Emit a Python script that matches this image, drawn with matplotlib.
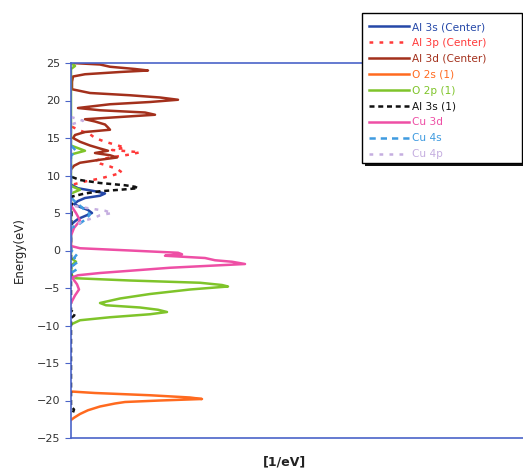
import matplotlib
matplotlib.use("Agg")
import matplotlib.pyplot as plt
from matplotlib.patches import Rectangle
import numpy as np

# energy (eV) / DOS (1/eV) pairs
al3s_c_e = [8.8, 8.3, 7.9, 7.6, 7.3, 7.0, 6.6, 6.2, 5.8, 5.4, 5.0, 4.6, 4.2, 3.8, 3.4]
al3s_c_d = [0.00, 0.07, 0.24, 0.34, 0.29, 0.14, 0.07, 0.03, 0.09, 0.17, 0.21, 0.14, 0.07, 0.03, 0.00]

al3p_c_e = [16.5, 16.0, 15.5, 15.0, 14.5, 14.0, 13.7, 13.4, 13.1, 12.8, 12.4, 12.0,
            11.6, 11.2, 10.8, 10.4, 10.0, 9.6, 9.2, 8.8]
al3p_c_d = [0.01, 0.09, 0.19, 0.24, 0.34, 0.47, 0.54, 0.41, 0.69, 0.59, 0.39, 0.24,
            0.29, 0.39, 0.47, 0.51, 0.41, 0.29, 0.14, 0.02]

al3d_c_e = [25.0, 24.8, 24.5, 24.2, 24.0, 23.8, 23.5, 23.2, 22.5, 21.5, 21.0, 20.7, 20.4,
            20.1, 19.8, 19.5, 19.0, 18.7, 18.4, 18.1, 17.8, 17.5, 17.2, 16.8, 16.4, 16.1,
            15.8, 15.4, 15.0, 14.5, 14.0, 13.6, 13.3, 13.0, 12.7, 12.4, 12.1, 11.7, 11.3, 10.8]
al3d_c_d = [0.01, 0.29, 0.39, 0.64, 0.77, 0.49, 0.14, 0.02, 0.01, 0.01, 0.19, 0.59, 0.89,
            1.07, 0.79, 0.39, 0.07, 0.29, 0.74, 0.84, 0.49, 0.14, 0.24, 0.34, 0.37, 0.39,
            0.14, 0.04, 0.02, 0.09, 0.19, 0.29, 0.37, 0.24, 0.39, 0.46, 0.29, 0.09, 0.03, 0.00]

o2s_e = [-18.8, -19.0, -19.3, -19.6, -19.8, -20.0, -20.2, -20.4, -20.8, -21.3, -21.8, -22.3, -22.6]
o2s_d = [0.00, 0.24, 0.79, 1.19, 1.31, 0.89, 0.54, 0.44, 0.29, 0.17, 0.09, 0.03, 0.00]

o2p_e = [25.0, 24.6, 24.2, 14.0, 13.3, 12.8, 8.6, 8.1, 7.6, -1.0, -1.5, -2.0,
         -3.4, -3.7, -4.0, -4.3, -4.6, -4.8, -5.2, -5.8, -6.4, -7.0, -7.3, -7.6, -7.9,
         -8.2, -8.5, -8.9, -9.3, -9.8]
o2p_d = [0.00, 0.04, 0.00, 0.00, 0.14, 0.00, 0.00, 0.09, 0.00, 0.00, 0.05, 0.00,
         0.01, 0.05, 0.59, 1.29, 1.51, 1.57, 1.19, 0.79, 0.49, 0.29, 0.35, 0.69, 0.87,
         0.96, 0.79, 0.39, 0.09, 0.01]

al3s_1_e = [9.8, 9.4, 9.0, 8.7, 8.5, 8.3, 8.1, 7.9, 7.6, 7.2, 3.0, -8.0, -8.4, -8.7, -9.0,
            -20.8, -21.2, -21.6, -22.0]
al3s_1_d = [0.01, 0.09, 0.29, 0.54, 0.64, 0.67, 0.49, 0.29, 0.14, 0.01, 0.00, 0.00, 0.04,
            0.03, 0.00, 0.00, 0.03, 0.02, 0.00]

cu3d_e = [6.0, 5.0, 4.0, 3.0, 2.0, 0.6, 0.3, 0.0, -0.3, -0.5, -0.7, -1.0, -1.3, -1.5,
          -1.8, -2.0, -2.3, -2.6, -3.0, -3.3, -3.6, -4.5, -5.2, -6.0, -7.0]
cu3d_d = [0.00, 0.05, 0.09, 0.03, 0.00, 0.00, 0.09, 0.59, 1.07, 1.11, 0.94, 1.34, 1.44,
          1.61, 1.74, 1.44, 0.99, 0.69, 0.29, 0.07, 0.01, 0.06, 0.08, 0.04, 0.00]

cu4s_e = [14.0, 13.3, 12.6, 11.0, 7.0, 6.2, 5.5, 4.8, 4.2, 3.6, 3.0, 1.0, 0.0, -0.5,
          -1.0, -1.5, -2.0, -2.5, -3.0]
cu4s_d = [0.00, 0.05, 0.00, 0.00, 0.00, 0.07, 0.13, 0.19, 0.15, 0.09, 0.00, 0.00, 0.00,
          0.06, 0.03, 0.07, 0.02, 0.06, 0.00]

cu4p_e = [17.8, 17.3, 16.8, 6.0, 5.6, 5.3, 5.0, 4.7, 4.4, 4.0, 3.6, 3.2]
cu4p_d = [0.00, 0.12, 0.00, 0.00, 0.19, 0.34, 0.41, 0.29, 0.24, 0.14, 0.07, 0.00]

series = [
    ("Al 3s (Center)", al3s_c_e, al3s_c_d, "#2548a8", "-"),
    ("Al 3p (Center)", al3p_c_e, al3p_c_d, "#ff3a3a", (0, (1.5, 2.5))),
    ("Al 3d (Center)", al3d_c_e, al3d_c_d, "#a3301c", "-"),
    ("O 2s (1)", o2s_e, o2s_d, "#ff6a1f", "-"),
    ("O 2p (1)", o2p_e, o2p_d, "#7fc42a", "-"),
    ("Al 3s (1)", al3s_1_e, al3s_1_d, "#111111", (0, (2, 1.5))),
    ("Cu 3d", cu3d_e, cu3d_d, "#ee4fa5", "-"),
    ("Cu 4s", cu4s_e, cu4s_d, "#3f9be0", (0, (2.5, 2))),
    ("Cu 4p", cu4p_e, cu4p_d, "#c5aee0", (0, (1.5, 2.5))),
]

W, H = 523, 472
fig = plt.figure(figsize=(W / 100, H / 100), dpi=100)
ax = fig.add_axes([71 / W, 34 / H, 1 - 71 / W, 375 / H])

for label, e, d, color, ls in series:
    ax.plot(d, e, color=color, linestyle=ls, linewidth=1.8, label=label)

ax.set_xlim(0, 4.52)
ax.set_ylim(-25, 25)
ax.set_yticks(np.arange(-25, 26, 5))
ax.set_xticks([])
axis_blue = "#4a64c8"
for side in ["left", "top", "bottom"]:
    ax.spines[side].set_color(axis_blue)
    ax.spines[side].set_linewidth(1.2)
ax.spines["right"].set_visible(False)
ax.tick_params(axis="y", direction="out", length=4, color=axis_blue,
               labelsize=8, labelcolor="#333333")

ax.set_ylabel("Energy(eV)", fontsize=8.5, color="#222222", labelpad=8)
fig.text(285 / W, 1 - 462 / H, "[1/eV]", fontsize=9, fontweight="bold",
         ha="center", va="center", color="#222222")

# legend box drawn by hand so it can run to the right edge like the original
box_l, box_t, box_r, box_b = 362, 13, 522, 163
fig.patches.append(Rectangle((box_l / W + 3 / W, 1 - (box_b + 3) / H),
                             (box_r - box_l) / W, (box_b - box_t) / H,
                             transform=fig.transFigure, facecolor="#111111",
                             edgecolor="none", zorder=5))
fig.patches.append(Rectangle((box_l / W, 1 - box_b / H),
                             (box_r - box_l) / W, (box_b - box_t) / H,
                             transform=fig.transFigure, facecolor="white",
                             edgecolor="black", linewidth=1.0, zorder=6))

leg = ax.legend(loc="upper left", bbox_to_anchor=(369 / W, 1 - 22 / H),
                bbox_transform=fig.transFigure, borderaxespad=0, borderpad=0,
                fontsize=7.6, labelcolor="linecolor",
                handlelength=3.8, handletextpad=0.3, labelspacing=0.56,
                frameon=False)
leg.set_zorder(7)
leg.remove()
fig.add_artist(leg)

fig.savefig("out.png", dpi=100)
